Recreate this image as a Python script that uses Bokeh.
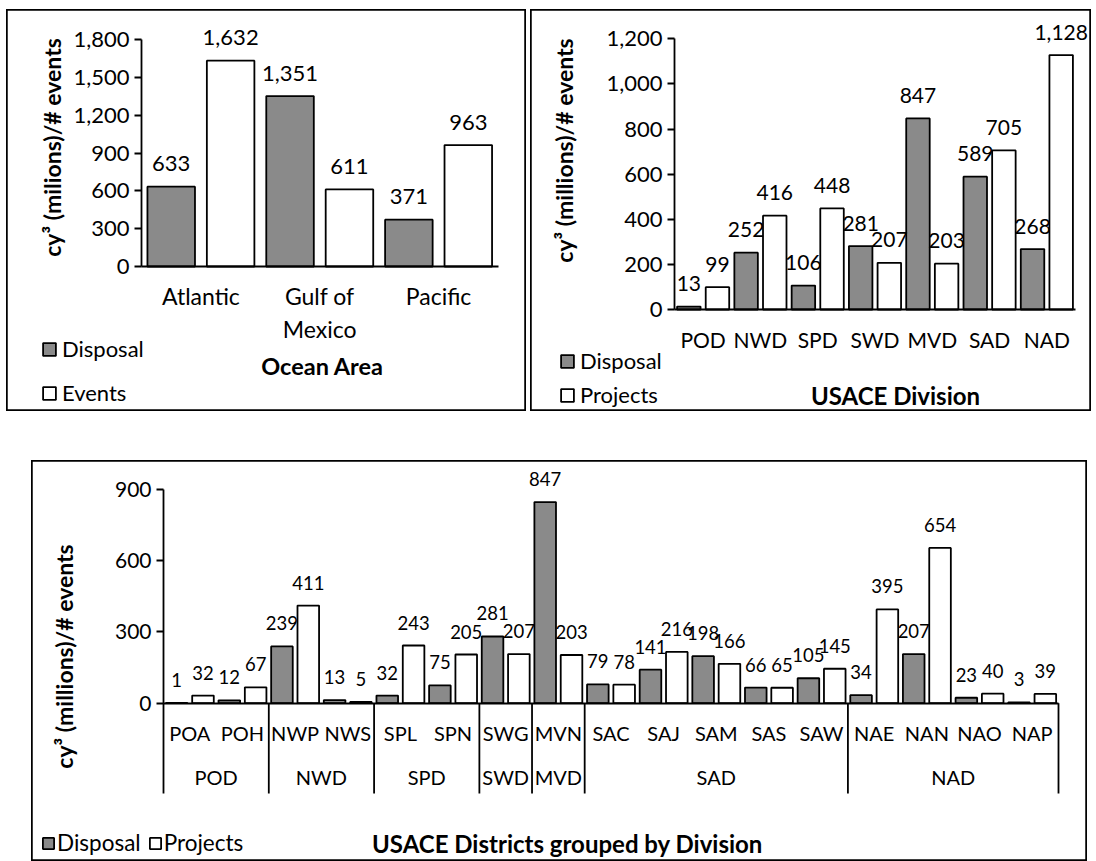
import math
from bokeh.plotting import figure
from bokeh.models import (Range1d, LinearAxis, FixedTicker, NumeralTickFormatter,
                          Legend, LegendItem, Label, ColumnDataSource, Spacer)
from bokeh.layouts import row, column
from bokeh.core.properties import value
from bokeh.embed import file_html
from bokeh.resources import INLINE

# ---------------- data ----------------
ocean_areas = ["Atlantic", "Gulf of\nMexico", "Pacific"]
ocean_disposal = [633, 1351, 371]
ocean_events = [1632, 611, 963]
ocean_ticks = [0, 300, 600, 900, 1200, 1500, 1800]

divisions = ["POD", "NWD", "SPD", "SWD", "MVD", "SAD", "NAD"]
division_disposal = [13, 252, 106, 281, 847, 589, 268]
division_projects = [99, 416, 448, 207, 203, 705, 1128]
division_ticks = [0, 200, 400, 600, 800, 1000, 1200]

districts = ["POA", "POH", "NWP", "NWS", "SPL", "SPN", "SWG", "MVN", "SAC",
             "SAJ", "SAM", "SAS", "SAW", "NAE", "NAN", "NAO", "NAP"]
district_division = ["POD", "POD", "NWD", "NWD", "SPD", "SPD", "SWD", "MVD", "SAD",
                     "SAD", "SAD", "SAD", "SAD", "NAD", "NAD", "NAD", "NAD"]
district_disposal = [1, 12, 239, 13, 32, 75, 281, 847, 79, 141, 198, 66, 105, 34, 207, 23, 3]
district_projects = [32, 67, 411, 5, 243, 205, 207, 203, 78, 216, 166, 65, 145, 395, 654, 40, 39]
district_ticks = [0, 300, 600, 900]

# ---------------- style ----------------
FONT = "Lato"
GREY = "#8a8a8a"
LW = 1.8


class Panel:
    """Figure whose plot frame is the whole panel box; axes drawn at fixed locations."""

    def __init__(self, W, H, x0, x1, left, right, ymax, top, zero):
        sx = (x1 - x0) / (right - left)
        sy = ymax / (zero - top)
        self.xs = x0 - left * sx
        self.xe = x0 + (W - left) * sx
        self.ye = ymax + top * sy
        self.ys = -(H - zero) * sy
        self.sx, self.sy = sx, sy
        self.W, self.H = W, H
        self.p = figure(width=W, height=H,
                        x_range=Range1d(self.xs, self.xe),
                        y_range=Range1d(self.ys, self.ye),
                        output_backend="svg", toolbar_location=None,
                        x_axis_location=None, y_axis_location=None,
                        min_border=0, outline_line_color="black",
                        outline_line_width=2.5,
                        background_fill_color="white", border_fill_color="white")
        self.p.grid.visible = False

    def X(self, px):
        return self.xs + px * self.sx

    def Y(self, py):
        return self.ye - py * self.sy


def y_axis(pn, loc, ymax, ticks, size):
    ax = LinearAxis(fixed_location=loc, bounds=(0, ymax),
                    ticker=FixedTicker(ticks=ticks),
                    formatter=NumeralTickFormatter(format="0,0"),
                    major_tick_in=0, major_tick_out=7, minor_tick_in=0, minor_tick_out=0,
                    axis_line_width=LW, major_tick_line_width=LW,
                    axis_line_color="black", major_tick_line_color="black",
                    major_label_text_font=FONT, major_label_text_font_size=size,
                    major_label_text_color="black", major_label_standoff=5)
    pn.p.add_layout(ax, "left")


def x_axis(pn, loc, bounds, ticks, names, size, standoff, line=True):
    ax = LinearAxis(fixed_location=loc, bounds=bounds,
                    ticker=FixedTicker(ticks=ticks),
                    major_label_overrides={t: n for t, n in zip(ticks, names)},
                    major_tick_in=0, major_tick_out=0, minor_tick_in=0, minor_tick_out=0,
                    axis_line_width=LW, axis_line_color="black" if line else None,
                    major_label_text_font=FONT, major_label_text_font_size=size,
                    major_label_text_color="black", major_label_standoff=standoff)
    pn.p.add_layout(ax, "below")


def bars(pn, xs, vals, width, color, label_size, label_offset):
    src = ColumnDataSource(dict(x=xs, top=vals, lab=[f"{v:,}" for v in vals]))
    r = pn.p.vbar(x="x", top="top", bottom=0, width=width, source=src,
                  fill_color=color, line_color="black", line_width=LW)
    pn.p.text(x="x", y="top", text="lab", source=src, y_offset=label_offset,
              text_align="center", text_baseline="middle", text_color="black",
              text_font=value(FONT), text_font_size=label_size)
    return r


def title(pn, px, py, text, size, angle=0.0):
    pn.p.add_layout(Label(x=pn.X(px), y=pn.Y(py), text=text, angle=angle,
                          text_align="center", text_baseline="middle",
                          text_font=FONT, text_font_style="bold",
                          text_font_size=size, text_color="black"))


def legend(pn, items, loc, orientation, glyph, standoff, spacing, size):
    lg = Legend(items=[LegendItem(label=l, renderers=[r]) for l, r in items],
                location=loc, orientation=orientation,
                glyph_width=glyph, glyph_height=glyph, label_standoff=standoff,
                spacing=spacing, padding=0, margin=0,
                background_fill_alpha=0, border_line_color=None,
                label_text_font=FONT, label_text_font_size=size,
                label_text_color="black")
    pn.p.add_layout(lg)


# ---------------- panel 1: Ocean Area ----------------
n1 = len(ocean_areas)
p1 = Panel(520, 402, -0.5, n1 - 0.5, 135, 491.5, max(ocean_ticks), 30, 257)
idx1 = list(range(n1))
r1a = bars(p1, [i - 0.25 for i in idx1], ocean_disposal, 0.4, GREY, "22px", -23)
r1b = bars(p1, [i + 0.25 for i in idx1], ocean_events, 0.4, "white", "22px", -23)
y_axis(p1, -0.5, max(ocean_ticks), ocean_ticks, "22px")
x_axis(p1, 0, (-0.5, n1 - 0.5), idx1, ocean_areas, "23px", 15)
title(p1, 316, 356, "Ocean Area", "23.5px")
title(p1, 45, 138, "cy\u00b3 (milions)/# events", "23px", math.pi / 2)
legend(p1, [("Disposal", r1a), ("Events", r1b)], (35, 5), "vertical", 16, 5, 17, "22px")

# ---------------- panel 2: USACE Division ----------------
n2 = len(divisions)
p2 = Panel(561, 402, -0.5, n2 - 0.5, 144, 545, max(division_ticks), 29.3, 300)
idx2 = list(range(n2))
r2a = bars(p2, [i - 0.25 for i in idx2], division_disposal, 0.41, GREY, "21px", -23)
r2b = bars(p2, [i + 0.25 for i in idx2], division_projects, 0.41, "white", "21px", -23)
y_axis(p2, -0.5, max(division_ticks), division_ticks, "22px")
x_axis(p2, 0, (-0.5, n2 - 0.5), idx2, divisions, "21px", 17)
title(p2, 365, 386, "USACE Division", "24px")
title(p2, 33, 141, "cy\u00b3 (millions)/# events", "23px", math.pi / 2)
legend(p2, [("Disposal", r2a), ("Projects", r2b)], (29, 3), "vertical", 16, 5, 7, "22px")

# ---------------- panel 3: districts grouped by division ----------------
n3 = len(districts)
p3 = Panel(1056, 401, 0, 2 * n3, 132, 1027, max(district_ticks), 29, 242.7)
centers3 = [2 * i + 1 for i in range(n3)]
r3a = bars(p3, [c - 0.5 for c in centers3], district_disposal, 0.82, GREY, "18.5px", -23)
r3b = bars(p3, [c + 0.5 for c in centers3], district_projects, 0.82, "white", "18.5px", -23)
y_axis(p3, 0, max(district_ticks), district_ticks, "21px")
x_axis(p3, 0, (0, 2 * n3), centers3, districts, "20px", 18)

# division groups (derived from the district -> division list)
group_names, group_bounds = [], [0]
for i, d in enumerate(district_division):
    if not group_names or group_names[-1] != d:
        if group_names:
            group_bounds.append(2 * i)
        group_names.append(d)
group_bounds.append(2 * n3)
group_centers = [(a + b) // 2 for a, b in zip(group_bounds[:-1], group_bounds[1:])]
x_axis(p3, p3.Y(304), (0, 2 * n3), group_centers, group_names, "20px", 0, line=False)
p3.p.segment(x0=group_bounds, x1=group_bounds, y0=[0] * len(group_bounds),
             y1=[p3.Y(333)] * len(group_bounds), line_color="black", line_width=LW)
title(p3, 536, 383, "USACE Districts grouped by Division", "24px")
title(p3, 32, 196, "cy\u00b3 (millions)/# events", "23px", math.pi / 2)
legend(p3, [("Disposal", r3a), ("Projects", r3b)], (10, 5), "horizontal", 14, 2, 7, "22.5px")

layout = column(Spacer(height=9),
                row(Spacer(width=6), p1.p, Spacer(width=4), p2.p),
                Spacer(height=49),
                row(Spacer(width=31), p3.p))

open("out.html", "w").write(file_html(layout, INLINE))
